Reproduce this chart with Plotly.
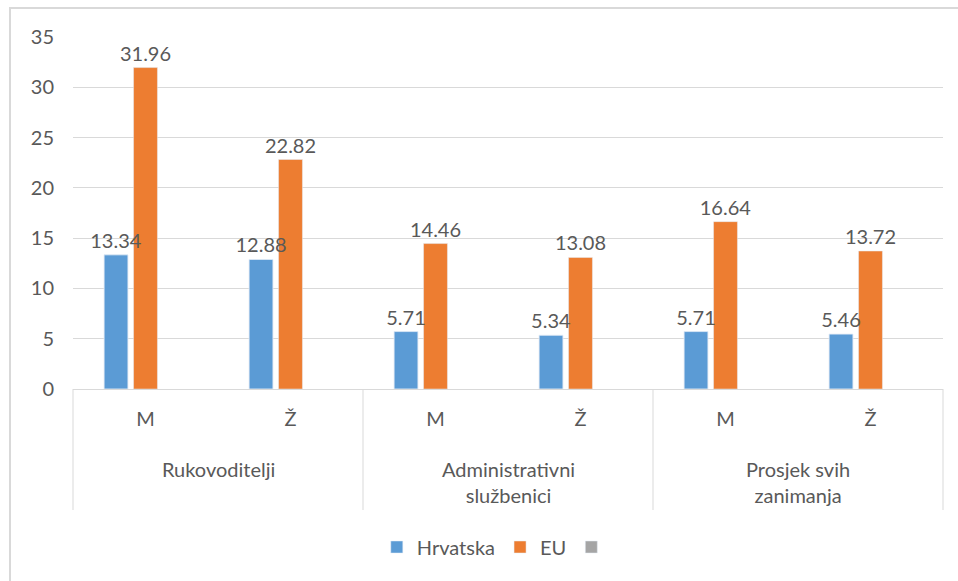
import plotly.graph_objects as go

group_names = ["Rukovoditelji", "Administrativni<br>službenici", "Prosjek svih<br>zanimanja"]
sex_names = ["M", "Ž"]
groups = [g for g in group_names for _ in sex_names]
sexes = [s for _ in group_names for s in sex_names]
hrvatska = [13.34, 12.88, 5.71, 5.34, 5.71, 5.46]
eu = [31.96, 22.82, 14.46, 13.08, 16.64, 13.72]
empty = [None] * 6

keys = [f"{g}|{s}" for g, s in zip(groups, sexes)]

FONT = "Lato, Open Sans, sans-serif"
GRAY = "#595959"
LINE = "#D9D9D9"
FS = 20

fig = go.Figure()
fig.add_trace(go.Bar(x=keys, y=hrvatska, name="Hrvatska", offsetgroup="h",
                     marker_color="#5B9BD5"))
fig.add_trace(go.Bar(x=keys, y=eu, name="EU", offsetgroup="e",
                     marker_color="#ED7D31",
                     text=[f"{v:.2f}" for v in eu], textposition="outside",
                     constraintext="none",
                     textfont=dict(size=FS, color=GRAY, family=FONT), cliponaxis=False))
fig.add_trace(go.Bar(x=keys, y=empty, name=" ", offsetgroup="g",
                     marker_color="#A5A5A5"))
# labels for Hrvatska drawn on top of the neighbouring bars
fig.add_trace(go.Bar(x=keys, y=hrvatska, name="Hrvatska labels", offsetgroup="h",
                     marker_color="rgba(0,0,0,0)", showlegend=False, hoverinfo="skip",
                     text=[f"{v:.2f}" for v in hrvatska], textposition="outside",
                     constraintext="none",
                     textfont=dict(size=FS, color=GRAY, family=FONT), cliponaxis=False))

PLOT_H = 352
fig.update_layout(
    width=958, height=581,
    margin=dict(l=73, r=15, t=37, b=192, autoexpand=False),
    plot_bgcolor="white", paper_bgcolor="white",
    barmode="group", bargap=0.39, bargroupgap=0.19,
    font=dict(family=FONT, color=GRAY, size=FS),
    showlegend=True,
    legend=dict(orientation="h", x=0.49, xanchor="center", y=-158 / PLOT_H, yanchor="middle",
                font=dict(size=FS, color=GRAY, family=FONT), itemwidth=30,
                traceorder="normal"),
)
fig.update_yaxes(range=[0, 35], dtick=5, showgrid=True, gridcolor=LINE, gridwidth=1,
                 zeroline=True, zerolinecolor=LINE, zerolinewidth=1, showline=False,
                 tickfont=dict(size=FS, color=GRAY, family=FONT), ticks="",
                 ticklabelstandoff=18, automargin=False)
fig.update_xaxes(type="category", showgrid=False, showline=False,
                 tickvals=keys, ticktext=sexes,
                 tickfont=dict(size=FS, color=GRAY, family=FONT), ticks="",
                 ticklabelstandoff=16, automargin=False)

# category group dividers and labels
n = len(group_names)
for i in range(n + 1):
    fig.add_shape(type="line", xref="paper", yref="paper",
                  x0=i / n, x1=i / n, y0=0, y1=-121 / PLOT_H,
                  line=dict(color=LINE, width=1))
for i, g in enumerate(group_names):
    fig.add_annotation(text=g, xref="paper", yref="paper",
                       x=(i + 0.5) / n, y=-(455 - 389) / PLOT_H,
                       xanchor="center", yanchor="top",
                       showarrow=False, font=dict(size=FS, color=GRAY, family=FONT),
                       align="center")

# outer chart border
fig.add_shape(type="rect", xref="paper", yref="paper",
              x0=-63 / 870, x1=1.1, y0=-0.7, y1=1 + 29 / PLOT_H,
              line=dict(color=LINE, width=2), layer="below")

fig.write_html("out.html", config={"displayModeBar": False},
               post_script="document.body.style.margin='0';document.body.style.overflow='hidden';")
